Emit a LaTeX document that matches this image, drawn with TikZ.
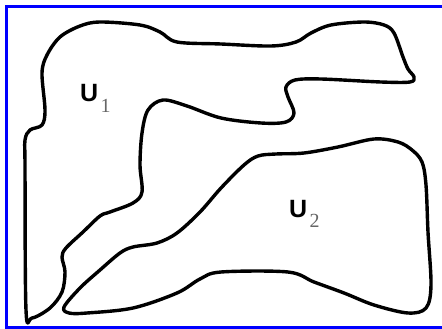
\documentclass[tikz,border=0pt]{standalone}
\usepackage{fontspec}
\setmainfont{Liberation Serif}
\newfontfamily\labelsans{Liberation Sans}
\begin{document}
\begin{tikzpicture}[x=1pt,y=-1pt,
  blob/.style={line width=3.4pt, line join=round},
  frame/.style={draw=blue, line width=3pt},
  setname/.style={inner sep=0pt, anchor=base west, font=\labelsans\bfseries\fontsize{25}{25}\selectfont},
  subs/.style={text=black!60, inner sep=0pt, anchor=base west, font=\fontsize{20}{20}\selectfont}]
\useasboundingbox (0,0) rectangle (442,329);
\fill[white] (0,0) rectangle (442,329);
\draw[frame] (442,6.5) -- (6.5,6.5) -- (6.5,327.5) -- (442,327.5);
% U1
\draw[blob] plot[smooth cycle, tension=0.55] coordinates {
 (42,73) (47,55) (60,37) (80,26) (100,22) (140,25) (160,32) (177,42)
 (221,44) (271,46) (296,42) (311,33) (331,25) (364,22) (384,25) (394,33)
 (403,57) (408,69) (414,77) (410,82) (381,82) (321,79) (295,80) (286,87)
 (288,97) (294,113) (286,122) (261,123) (221,118) (187,106) (163,100)
 (148,110) (142,133) (140,165) (142,192) (133,203) (110,212) (100,216)
 (83,232) (66,248) (62,257) (65,272) (62,292) (50,308) (32,318) (26,310)
 (25,165) (25,140) (30,130) (42,125) (45,110)};
% U2
\draw[blob] plot[smooth cycle, tension=0.55] coordinates {
 (221,188) (200,212) (177,233) (157,243) (133,247) (120,253) (100,270)
 (80,288) (64,307) (69,313) (87,313) (133,308) (177,293) (200,279)
 (221,272) (288,272) (314,282) (344,293) (374,305) (408,313) (426,308)
 (431,285) (428,232) (426,185) (422,162) (412,150) (398,142) (374,139)
 (338,147) (304,153) (276,154) (258,156) (244,165)};
% labels
\node[setname] (u1) at (80,102) {U};
\node[subs] (u1s) at ([xshift=2pt,yshift=-10pt]u1.base east) {1};
\node[setname] (u2) at (289,217) {U};
\node[subs] (u2s) at ([xshift=2pt,yshift=-10pt]u2.base east) {2};
\end{tikzpicture}
\end{document}
